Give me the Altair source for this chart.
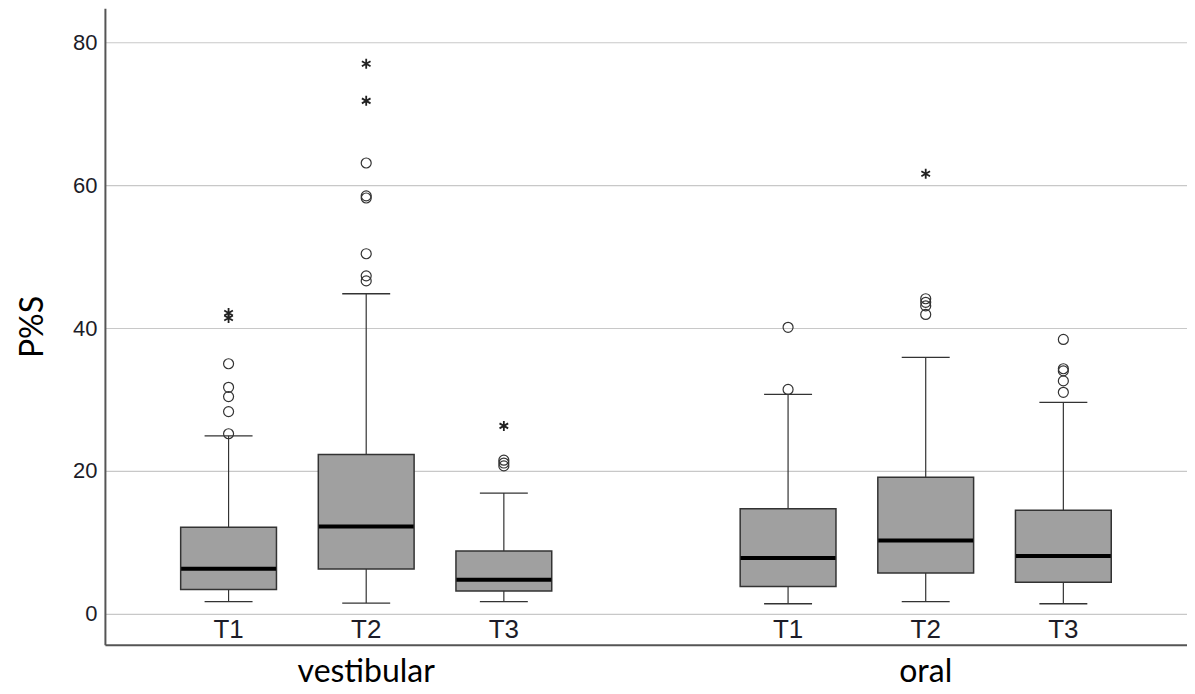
import altair as alt
import pandas as pd

# ---- data ----
groups = ["vestibular", "vestibular", "vestibular", "oral", "oral", "oral"]
times = ["T1", "T2", "T3", "T1", "T2", "T3"]
whisker_low = [1.7, 1.5, 1.7, 1.4, 1.7, 1.4]
q1 = [3.4, 6.25, 3.2, 3.8, 5.7, 4.4]
median = [6.3, 12.2, 4.75, 7.8, 10.25, 8.1]
q3 = [12.1, 22.3, 8.8, 14.7, 19.1, 14.5]
whisker_high = [24.9, 44.8, 16.9, 30.7, 35.9, 29.6]

# outliers (circles)
out_group = (["vestibular"] * 5 + ["vestibular"] * 6 + ["vestibular"] * 3
             + ["oral"] * 2 + ["oral"] * 4 + ["oral"] * 5)
out_time = (["T1"] * 5 + ["T2"] * 6 + ["T3"] * 3
            + ["T1"] * 2 + ["T2"] * 4 + ["T3"] * 5)
out_value = [25.2, 28.3, 30.4, 31.7, 35.0,
             46.6, 47.3, 50.4, 58.2, 58.5, 63.1,
             20.7, 21.1, 21.5,
             31.4, 40.1,
             41.9, 43.1, 43.6, 44.1,
             31.0, 32.6, 34.0, 34.3, 38.4]

# extreme values (asterisks)
ext_group = ["vestibular", "vestibular", "vestibular", "vestibular", "vestibular", "oral"]
ext_time = ["T1", "T1", "T2", "T2", "T3", "T2"]
ext_value = [41.4, 42.1, 71.8, 77.0, 26.3, 61.6]

group_order = ["vestibular", "oral"]
time_order = ["T1", "T2", "T3"]

boxes = pd.DataFrame({
    "group": groups, "time": times, "low": whisker_low, "q1": q1,
    "median": median, "q3": q3, "high": whisker_high,
})
outs = pd.DataFrame({"group": out_group, "time": out_time, "value": out_value})
exts = pd.DataFrame({"group": ext_group, "time": ext_time, "value": ext_value})

y_scale = alt.Scale(domain=[-4.34, 84.76], nice=False, zero=False)
x_scale = alt.Scale(domain=group_order, paddingInner=0.262, paddingOuter=0.098)
off_scale = alt.Scale(domain=time_order, paddingInner=0.304, paddingOuter=0.152)

x_enc = alt.X(
    "group:N", scale=x_scale, sort=group_order, title=None,
    axis=alt.Axis(
        labelFont="Lato", labelFontSize=32, labelColor="#000000",
        labelPadding=12, ticks=False, domainColor="#555555", domainWidth=2,
        labelAngle=0, grid=False,
    ),
)
off_enc = alt.XOffset("time:N", scale=off_scale, sort=time_order)

base = alt.Chart(boxes).encode(x=x_enc, xOffset=off_enc)

whisk = base.mark_rule(color="#333333", strokeWidth=1.2, opacity=1).encode(
    y=alt.Y(
        "low:Q", scale=y_scale, title="P%S",
        axis=alt.Axis(
            values=[0, 20, 40, 60, 80], ticks=False, labelFont="Liberation Sans",
            labelFontSize=22, labelColor="#1c1c28", labelPadding=8,
            domainColor="#555555", domainWidth=2, gridColor="#c8c8c8",
            gridWidth=1.2, titleFont="Lato", titleFontSize=32,
            titleFontWeight="normal", titleColor="#000000", titlePadding=23,
        ),
    ),
    y2="high:Q",
)

box = base.mark_bar(color="#a0a0a0", stroke="#333333", strokeWidth=1.5,
                    opacity=1).encode(
    y=alt.Y("q1:Q", scale=y_scale), y2="q3:Q"
)

med = base.mark_tick(color="#000000", size=95, thickness=4, opacity=1).encode(
    y=alt.Y("median:Q", scale=y_scale)
)

cap_lo = base.mark_tick(color="#333333", size=48, thickness=1.3, opacity=1).encode(
    y=alt.Y("low:Q", scale=y_scale)
)
cap_hi = base.mark_tick(color="#333333", size=48, thickness=1.3, opacity=1).encode(
    y=alt.Y("high:Q", scale=y_scale)
)

tlabels = base.mark_text(
    font="Liberation Sans", fontSize=26, color="#1c1c28", baseline="middle"
).encode(y=alt.value(622), text="time:N")

circ = alt.Chart(outs).mark_point(
    shape="circle", filled=False, size=100, color="#333333", strokeWidth=1.2,
    opacity=1,
).encode(x=x_enc, xOffset=off_enc, y=alt.Y("value:Q", scale=y_scale))

star_path = "M0,-1L0,1M-0.866,-0.5L0.866,0.5M-0.866,0.5L0.866,-0.5"
star = alt.Chart(exts).mark_point(
    shape=star_path, filled=False, size=100, color="#222222", strokeWidth=1.8,
    opacity=1,
).encode(x=x_enc, xOffset=off_enc, y=alt.Y("value:Q", scale=y_scale))

chart = (
    alt.layer(whisk, box, med, cap_lo, cap_hi, tlabels, circ, star)
    .properties(
        width=1083, height=637,
        autosize=alt.AutoSizeParams(type="none"),
        padding={"left": 97, "top": 0, "right": 0, "bottom": 48},
        background="#ffffff",
    )
    .configure_view(stroke=None)
)

chart.save("out.html", embed_options={"renderer": "svg", "actions": False})
